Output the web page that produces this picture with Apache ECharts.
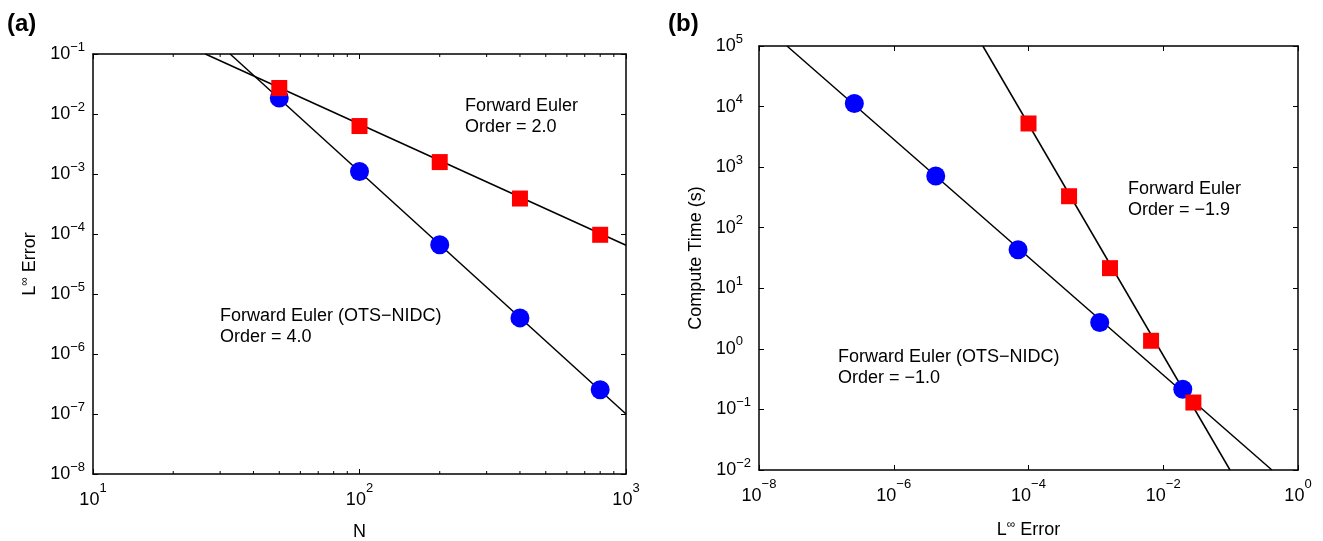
<!DOCTYPE html>
<html>
<head>
<meta charset="utf-8">
<script src="https://cdn.jsdelivr.net/npm/echarts@6/dist/echarts.min.js"></script>
<style>
html, body { margin: 0; padding: 0; background: #fff; }
#chart { width: 1323px; height: 541px; }
</style>
</head>
<body>
<div id="chart"></div>
<script>
// (a) error vs N
var nValues = [50, 100, 200, 400, 800];
var errEuler = [0.0271, 0.0063, 0.00158, 0.00039, 0.000097];
var errNidc = [0.0185, 0.0011, 0.000066, 0.000004, 0.000000254];
var fitEulerA = [[26.4, 0.1], [1000, 0.000065]];
var fitNidcA = [[32.7, 0.1], [1000, 0.0000001]];
var minorN = [20, 30, 40, 50, 60, 70, 80, 90, 200, 300, 400, 500, 600, 700, 800, 900];

// (b) compute time vs error
var errEulerB = [0.0001, 0.0004, 0.00162, 0.0066, 0.028];
var timeEuler = [5260, 331, 21.5, 1.36, 0.13];
var errNidcB = [0.00000026, 0.0000042, 0.00007, 0.00114, 0.0195];
var timeNidc = [11200, 716, 43.4, 2.72, 0.216];
var fitEulerB = [[0.000021, 100000], [0.098, 0.01]];
var fitNidcB = [[0.000000026, 100000], [0.41, 0.01]];

var FONT = "'Liberation Sans', Arial, Helvetica, sans-serif";

function pairs(xs, ys) {
    var out = [];
    for (var i = 0; i < xs.length; i++) {
        out.push([xs[i], ys[i]]);
    }
    return out;
}

// 10^n 形式的刻度标签
function powLabel(v) {
    var e = Math.round(Math.log10(v));
    var s = e < 0 ? '\u2212' + (-e) : '' + e;
    return '{b|10}{s|' + s + '}';
}
function powLabelY(v) {
    var e = Math.round(Math.log10(v));
    if (e < 0) return '{b|10}{s|\u2212' + (-e) + '}';
    // 正指数补一点宽度，让 "10" 对齐
    return '{b|10}{s|' + e + '}{p|}';
}

var yRich = {
    b: { fontSize: 18, lineHeight: 18, fontFamily: FONT, color: '#000' },
    s: { fontSize: 13, lineHeight: 13, fontFamily: FONT, color: '#000', padding: [0, 0, 14, 0] },
    p: { width: 8, height: 1 }
};
var xRich = {
    b: { fontSize: 18, lineHeight: 18, fontFamily: FONT, color: '#000' },
    s: { fontSize: 13, lineHeight: 13, fontFamily: FONT, color: '#000', padding: [0, 0, 23, 0] }
};
var nameRich = {
    a: { fontSize: 18, fontFamily: FONT, color: '#000' },
    s: { fontSize: 12, fontFamily: FONT, color: '#000', padding: [0, 0, 10, 0] }
};

function makeAxis(grid, pos, min, max, interval, showLabel, name, gap) {
    var isY = (pos == 'left' || pos == 'right');
    var ax = {
        type: 'log',
        logBase: 10,
        gridIndex: grid,
        position: pos,
        min: min,
        max: max,
        interval: interval,
        axisLine: { show: true, onZero: false, lineStyle: { color: '#000', width: 1.5 } },
        axisTick: { show: true, inside: true, length: 5, lineStyle: { color: '#000', width: 1 } },
        splitLine: { show: false },
        minorTick: { show: false },
        axisLabel: {
            show: showLabel,
            margin: isY ? 8 : 17,
            formatter: isY ? powLabelY : powLabel,
            rich: isY ? yRich : xRich
        }
    };
    if (name) {
        ax.name = name;
        ax.nameLocation = 'middle';
        ax.nameGap = gap;
        ax.nameTextStyle = { fontSize: 18, fontFamily: FONT, color: '#000', rich: nameRich };
        if (pos == 'left') ax.nameRotate = 90;
    }
    return ax;
}

function fitLine(data, xi, yi) {
    return {
        type: 'line', xAxisIndex: xi, yAxisIndex: yi, data: data,
        showSymbol: false, silent: true, z: 2,
        lineStyle: { color: '#000', width: 1.5 }
    };
}

function marks(data, xi, yi, symbol, size, color) {
    return {
        type: 'scatter', xAxisIndex: xi, yAxisIndex: yi, data: data,
        symbol: symbol, symbolSize: size, silent: true, z: 2,
        itemStyle: { color: color, opacity: 1 }
    };
}

var myChart = echarts.init(document.getElementById('chart'));

var option = {
    animation: false,
    backgroundColor: '#fff',
    textStyle: { fontFamily: FONT },
    grid: [
        { left: 93, top: 54, width: 533, height: 420, containLabel: false, outerBoundsMode: 'none' },
        { left: 759, top: 46, width: 539, height: 424, containLabel: false, outerBoundsMode: 'none' }
    ],
    xAxis: [
        makeAxis(0, 'bottom', 10, 1000, 1, true, '{a|N}', 46),
        makeAxis(0, 'top', 10, 1000, 1, false),
        makeAxis(1, 'bottom', 1e-8, 1, 2, true, '{a|L}{s|\u221e}{a| Error}', 48),
        makeAxis(1, 'top', 1e-8, 1, 2, false)
    ],
    yAxis: [
        makeAxis(0, 'left', 1e-8, 0.1, 1, true, '{a|L}{s|\u221e}{a| Error}', 52),
        makeAxis(0, 'right', 1e-8, 0.1, 1, false),
        makeAxis(1, 'left', 0.01, 100000, 1, true, '{a|Compute Time (s)}', 54),
        makeAxis(1, 'right', 0.01, 100000, 1, false)
    ],
    series: [
        // 小刻度 (a) x 轴
        {
            type: 'custom', xAxisIndex: 0, yAxisIndex: 0, silent: true, clip: false,
            data: minorN.map(function (n) { return [n, 1e-8]; }),
            encode: { x: 0, y: 1 },
            renderItem: function (params, api) {
                var x = api.value(0);
                var pb = api.coord([x, 1e-8]);
                var pt = api.coord([x, 0.1]);
                return {
                    type: 'group',
                    children: [
                        { type: 'line', shape: { x1: pb[0], y1: pb[1], x2: pb[0], y2: pb[1] - 3 }, style: { stroke: '#000', lineWidth: 1 } },
                        { type: 'line', shape: { x1: pt[0], y1: pt[1], x2: pt[0], y2: pt[1] + 3 }, style: { stroke: '#000', lineWidth: 1 } }
                    ]
                };
            }
        },
        fitLine(fitNidcA, 0, 0),
        marks(pairs(nValues, errNidc), 0, 0, 'circle', 19, '#0000ff'),
        fitLine(fitEulerA, 0, 0),
        marks(pairs(nValues, errEuler), 0, 0, 'rect', 16, '#ff0000'),
        fitLine(fitNidcB, 2, 2),
        marks(pairs(errNidcB, timeNidc), 2, 2, 'circle', 19, '#0000ff'),
        fitLine(fitEulerB, 2, 2),
        marks(pairs(errEulerB, timeEuler), 2, 2, 'rect', 16, '#ff0000')
    ],
    graphic: [
        { type: 'text', left: 7, top: 12, style: { text: '(a)', font: 'bold 24px ' + FONT, fill: '#000' } },
        { type: 'text', left: 668, top: 12, style: { text: '(b)', font: 'bold 24px ' + FONT, fill: '#000' } },
        { type: 'text', left: 465, top: 95, style: { text: 'Forward Euler\nOrder = 2.0', font: '18px ' + FONT, lineHeight: 21.5, fill: '#000' } },
        { type: 'text', left: 220, top: 305, style: { text: 'Forward Euler (OTS\u2212NIDC)\nOrder = 4.0', font: '18px ' + FONT, lineHeight: 21.5, fill: '#000' } },
        { type: 'text', left: 1128, top: 178, style: { text: 'Forward Euler\nOrder = \u22121.9', font: '18px ' + FONT, lineHeight: 21.5, fill: '#000' } },
        { type: 'text', left: 838, top: 346, style: { text: 'Forward Euler (OTS\u2212NIDC)\nOrder = \u22121.0', font: '18px ' + FONT, lineHeight: 21.5, fill: '#000' } }
    ]
};

myChart.setOption(option);
</script>
</body>
</html>
